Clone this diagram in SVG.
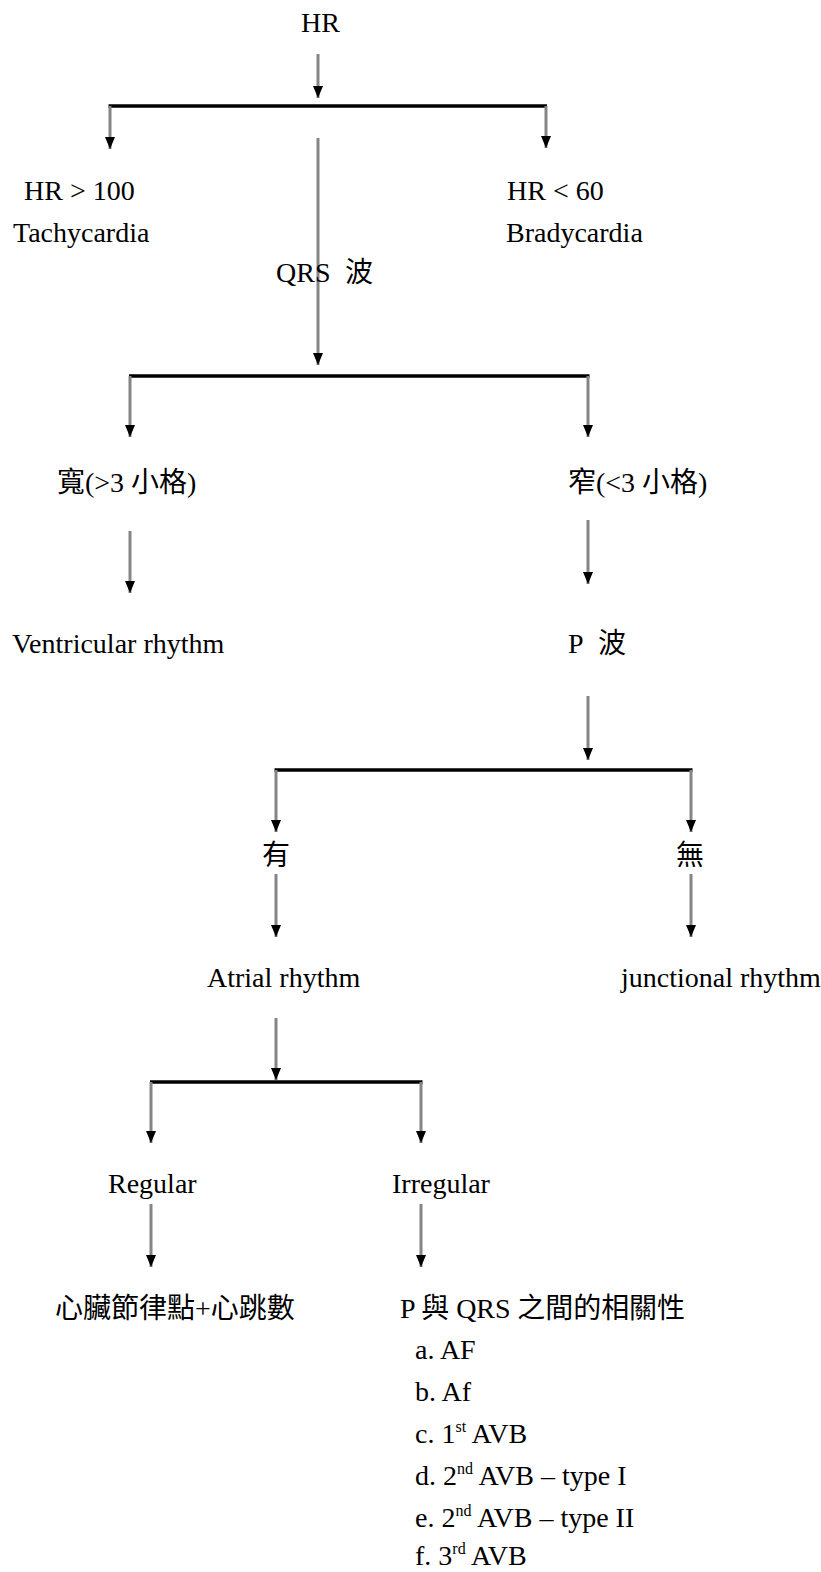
<svg xmlns="http://www.w3.org/2000/svg" width="821" height="1572" viewBox="0 0 821 1572">
<style>
  text { font-family: "Liberation Serif", "Noto Sans CJK TC", serif; font-size: 28px; fill: #000; }
  .v { stroke: #858585; stroke-width: 3; fill: none; marker-end: url(#arr); }
  .h { stroke: #000; stroke-width: 3.5; fill: none; }
  .sup { font-size: 16px; }
</style>
<defs>
  <marker id="arr" viewBox="0 0 12 10" refX="12" refY="5" markerWidth="12" markerHeight="10" markerUnits="userSpaceOnUse" orient="auto">
    <path d="M0,0 L12,5 L0,10 z" fill="#000"/>
  </marker>
</defs>
<rect width="821" height="1572" fill="#fff"/>
<g id="connectors">
  <line class="v" x1="318" y1="54" x2="318" y2="98"/>
  <line class="h" x1="108.5" y1="106" x2="547" y2="106"/>
  <line class="v" x1="110" y1="106" x2="110" y2="149"/>
  <line class="v" x1="546" y1="106" x2="546" y2="148"/>
  <line class="v" x1="318" y1="138" x2="318" y2="365"/>
  <line class="h" x1="129" y1="376" x2="589.5" y2="376"/>
  <line class="v" x1="130" y1="376" x2="130" y2="437"/>
  <line class="v" x1="588" y1="376" x2="588" y2="437"/>
  <line class="v" x1="130" y1="531" x2="130" y2="593"/>
  <line class="v" x1="588" y1="520" x2="588" y2="584"/>
  <line class="v" x1="588" y1="696" x2="588" y2="760"/>
  <line class="h" x1="274.5" y1="770" x2="692.5" y2="770"/>
  <line class="v" x1="276" y1="770" x2="276" y2="832"/>
  <line class="v" x1="691" y1="770" x2="691" y2="832"/>
  <line class="v" x1="276" y1="874" x2="276" y2="937"/>
  <line class="v" x1="691" y1="874" x2="691" y2="937"/>
  <line class="v" x1="276" y1="1018" x2="276" y2="1080"/>
  <line class="h" x1="150" y1="1082" x2="422.5" y2="1082"/>
  <line class="v" x1="151" y1="1082" x2="151" y2="1143"/>
  <line class="v" x1="421" y1="1082" x2="421" y2="1143"/>
  <line class="v" x1="151" y1="1204" x2="151" y2="1267"/>
  <line class="v" x1="421" y1="1204" x2="421" y2="1267"/>
</g>
<g id="n-hr"><text x="301" y="32">HR</text></g>
<g id="n-tachy"><text x="24" y="200">HR &gt; 100</text><text x="13" y="242">Tachycardia</text></g>
<g id="n-brady"><text x="507" y="200">HR &lt; 60</text><text x="506" y="242">Bradycardia</text></g>
<g id="n-qrs"><text x="276" y="282">QRS<tspan x="345">波</tspan></text></g>
<g id="n-wide"><text x="57" y="492">寬(&gt;3 小格)</text></g>
<g id="n-narrow"><text x="568" y="492">窄(&lt;3 小格)</text></g>
<g id="n-ventricular"><text x="12" y="653">Ventricular rhythm</text></g>
<g id="n-pwave"><text x="568" y="653">P<tspan x="598">波</tspan></text></g>
<g id="n-yes"><text x="276" y="865" text-anchor="middle">有</text></g>
<g id="n-no"><text x="690" y="865" text-anchor="middle">無</text></g>
<g id="n-atrial"><text x="207" y="987">Atrial rhythm</text></g>
<g id="n-junctional"><text x="621" y="987">junctional rhythm</text></g>
<g id="n-regular"><text x="108" y="1193">Regular</text></g>
<g id="n-irregular"><text x="392" y="1193">Irregular</text></g>
<g id="n-pacemaker"><text x="55" y="1318">心臟節律點+心跳數</text></g>
<g id="n-relation">
  <text x="400" y="1318" textLength="285" lengthAdjust="spacing">P 與 QRS 之間的相關性</text>
  <text x="415" y="1359">a. AF</text>
  <text x="415" y="1401">b. Af</text>
  <text x="415" y="1443">c. 1<tspan class="sup" dy="-11">st</tspan><tspan dy="11"> AVB</tspan></text>
  <text x="415" y="1485">d. 2<tspan class="sup" dy="-11">nd</tspan><tspan dy="11"> AVB – type I</tspan></text>
  <text x="415" y="1527">e. 2<tspan class="sup" dy="-11">nd</tspan><tspan dy="11"> AVB – type II</tspan></text>
  <text x="415" y="1565">f. 3<tspan class="sup" dy="-11">rd</tspan><tspan dy="11"> AVB</tspan></text>
</g>
</svg>
